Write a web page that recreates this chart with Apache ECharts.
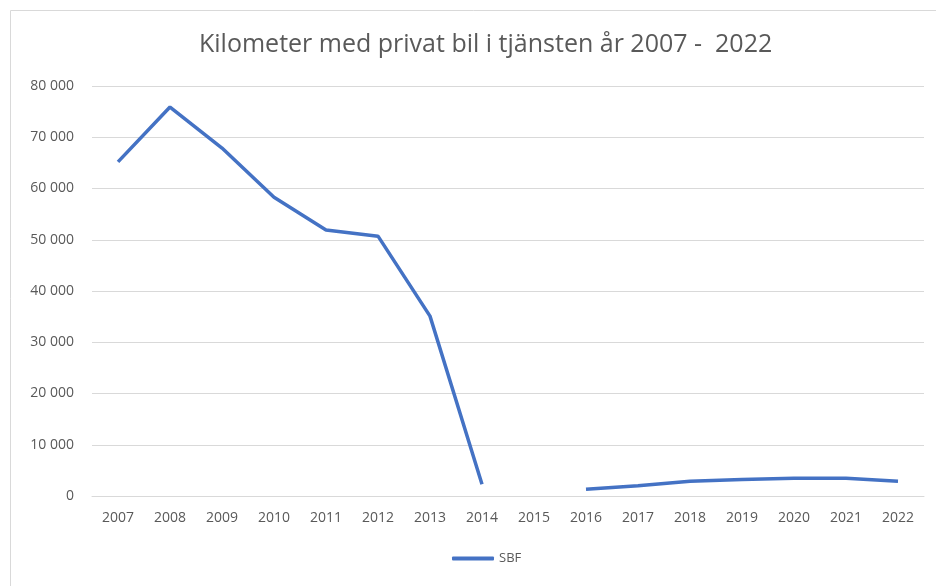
<!DOCTYPE html>
<html>
<head>
<meta charset="utf-8">
<script src="https://cdn.jsdelivr.net/npm/echarts@6/dist/echarts.min.js"></script>
<style>
    html, body { margin: 0; padding: 0; background: #fff; }
    #main { width: 936px; height: 586px; }
</style>
</head>
<body>
<div id="main"></div>
<script>
    //年份
    var years = ['2007', '2008', '2009', '2010', '2011', '2012', '2013', '2014',
        '2015', '2016', '2017', '2018', '2019', '2020', '2021', '2022'];
    //SBF 公里数 (2015 缺失)
    var sbf = [65200, 75900, 67900, 58300, 51900, 50700, 35100, 2300,
        null, 1300, 2000, 2900, 3200, 3450, 3450, 2900];
    var seriesName = 'SBF';
    var titleText = 'Kilometer med privat bil i tjänsten år 2007 -  2022';

    var chart = echarts.init(document.getElementById('main'));

    var fmt = function (v) {
        return String(v).replace(/\B(?=(\d{3})+(?!\d))/g, ' ');
    };

    var option = {
        animation: false,
        textStyle: { fontFamily: 'Open Sans' },
        graphic: [{
            type: 'rect',
            shape: { x: 10.5, y: 10.5, width: 940, height: 590 },
            style: { fill: 'none', stroke: '#d9d9d9', lineWidth: 1 },
            silent: true
        }],
        title: {
            text: titleText,
            left: 194,
            top: 27,
            textStyle: {
                fontFamily: 'Open Sans',
                fontSize: 25,
                fontWeight: 'normal',
                color: '#595959'
            }
        },
        legend: {
            data: [seriesName],
            bottom: 16,
            left: 447,
            itemWidth: 42,
            itemHeight: 4,
            itemGap: 3,
            icon: 'roundRect',
            textStyle: { color: '#595959', fontSize: 13 }
        },
        grid: {
            left: 92,
            right: 12,
            top: 86,
            bottom: 90,
            containLabel: false
        },
        xAxis: {
            type: 'category',
            data: years,
            boundaryGap: true,
            axisLine: { lineStyle: { color: '#d9d9d9' } },
            axisTick: { show: false },
            axisLabel: { color: '#595959', fontSize: 14, margin: 15 }
        },
        yAxis: {
            type: 'value',
            min: 0,
            max: 80000,
            interval: 10000,
            axisLine: { show: false },
            axisTick: { show: false },
            axisLabel: {
                color: '#595959',
                fontSize: 14,
                margin: 18,
                formatter: fmt
            },
            splitLine: { lineStyle: { color: '#d9d9d9' } }
        },
        series: [{
            name: seriesName,
            type: 'line',
            data: sbf,
            connectNulls: false,
            showSymbol: false,
            symbol: 'none',
            lineStyle: { color: '#4472c4', width: 3.5 },
            itemStyle: { color: '#4472c4' }
        }]
    };

    chart.setOption(option);
</script>
</body>
</html>
